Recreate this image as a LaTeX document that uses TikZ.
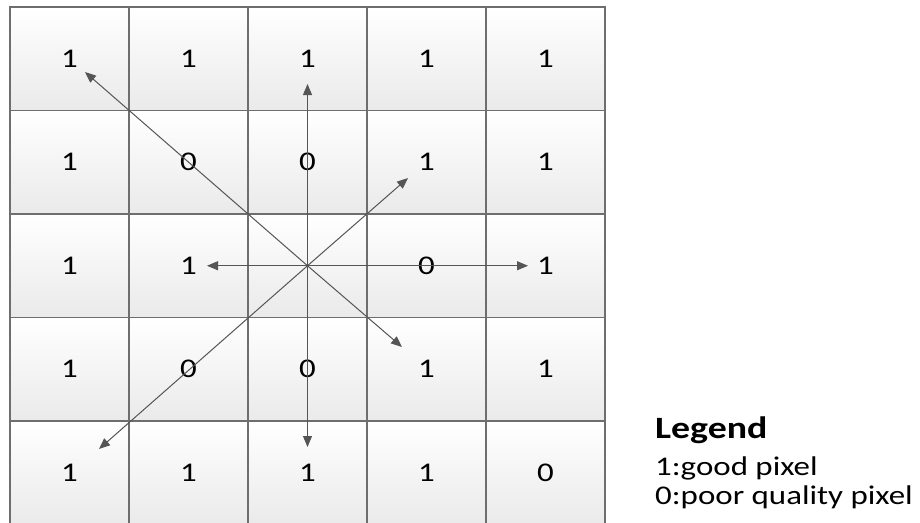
\documentclass[tikz,border=0pt]{standalone}
\usepackage{fontspec}
\setmainfont{Carlito}[FakeStretch=1.22]
\usetikzlibrary{arrows.meta}
\definecolor{gridline}{HTML}{6E6E6E}
\definecolor{cellbot}{HTML}{EAEAEA}
\definecolor{arrowc}{HTML}{555555}
\begin{document}
\begin{tikzpicture}[x=1pt,y=-1pt,
  cell/.style={draw=gridline,line width=1.4pt,top color=white,bottom color=cellbot,
    minimum width=119pt,minimum height=103.5pt,inner sep=0pt,
    font=\fontsize{27}{32}\selectfont,text=black},
  ray/.style={draw=arrowc,line width=1pt,-{Triangle[length=11pt,width=9pt]}},
  legtitle/.style={anchor=base west,inner sep=0pt,font=\fontsize{31}{36}\selectfont\bfseries},
  legline/.style={anchor=base west,inner sep=0pt,font=\fontsize{27}{32}\selectfont}]
\useasboundingbox (0,0) rectangle (920,522);
\clip (0,0) rectangle (920,522);
\fill[white] (0,0) rectangle (920,522);
% cells
\foreach \r/\vals in {1/{1,1,1,1,1},2/{1,0,0,1,1},3/{1,1,,0,1},4/{1,0,0,1,1},5/{1,1,1,1,0}}{
  \foreach \v [count=\c] in \vals {
    \node[cell] (c\r\c) at ({10+119*(\c-0.5)},{7+103.5*(\r-0.5)}) {\v};
  }
}
% arrow tips
\coordinate (tN) at (307.5,84);
\coordinate (tS) at (307.5,447);
\coordinate (tW) at (207,265.75);
\coordinate (tE) at (528,265.75);
\coordinate (tNW) at (85,72);
\coordinate (tNE) at (408,178);
\coordinate (tSE) at (402,347);
\coordinate (tSW) at (99,449);
\foreach \t in {tN,tS,tW,tE,tNW,tNE,tSE,tSW}
  \draw[ray] (c33.center) -- (\t);
% legend
\node[legtitle] (legT) at (655,438) {Legend};
\node[legline] (leg1) at (655,475) {1:good pixel};
\node[legline] (leg0) at (655,504) {0:poor quality pixel};
\end{tikzpicture}
\end{document}
